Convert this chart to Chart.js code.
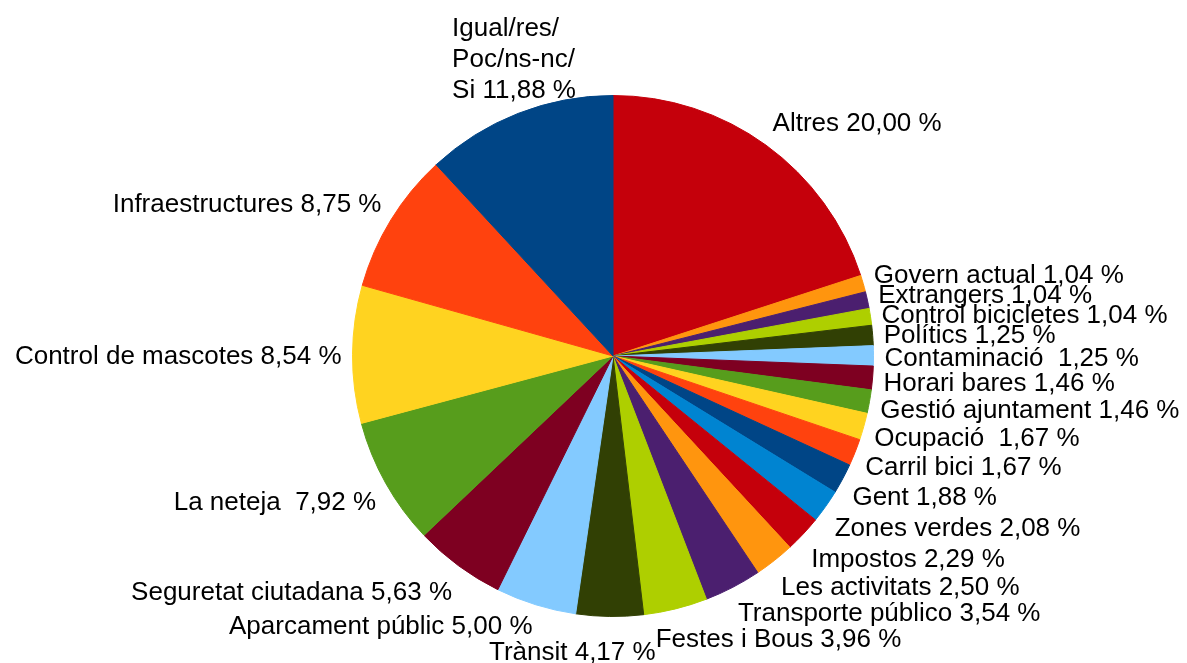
<!DOCTYPE html>
<html>
<head>
<meta charset="utf-8">
<script src="https://cdn.jsdelivr.net/npm/chart.js@4/dist/chart.umd.min.js"></script>
<style>
  html, body { margin: 0; padding: 0; background: #fff; }
  #wrap { width: 1187px; height: 663px; }
</style>
</head>
<body>
<div id="wrap"><canvas id="pieChart" width="1187" height="663"></canvas></div>
<script>
// Slices clockwise from 12 o'clock
const categories = [
    'Altres', 'Govern actual', 'Extrangers', 'Control bicicletes', 'Polítics',
    'Contaminació ', 'Horari bares', 'Gestió ajuntament', 'Ocupació ', 'Carril bici',
    'Gent', 'Zones verdes', 'Impostos', 'Les activitats', 'Transporte público',
    'Festes i Bous', 'Trànsit', 'Aparcament públic', 'Seguretat ciutadana', 'La neteja ',
    'Control de mascotes', 'Infraestructures', ['Igual/res/', 'Poc/ns-nc/', 'Si']
];
const shares = [
    20.00, 1.04, 1.04, 1.04, 1.25,
    1.25, 1.46, 1.46, 1.67, 1.67,
    1.88, 2.08, 2.29, 2.50, 3.54,
    3.96, 4.17, 5.00, 5.63, 7.92,
    8.54, 8.75, 11.88
];
const palette = ['#C5000B', '#FF950E', '#4B1F6F', '#AECF00', '#314004', '#83CAFF',
                 '#7E0021', '#579D1C', '#FFD320', '#FF420E', '#004586', '#0084D1'];
const sliceColors = shares.map((_, i) => palette[i % palette.length]);

const FONT = '26px "Liberation Sans", Arial, sans-serif';
const LINE_H = 31;

const fmtShare = v => v.toFixed(2).replace('.', ',') + ' %';
const clamp1 = v => Math.max(-1, Math.min(1, v));

// Labels outside the pie, anchored by the corner nearest the slice
const outsideLabels = {
    id: 'outsideLabels',
    afterDatasetsDraw(chart) {
        const ctx = chart.ctx;
        const meta = chart.getDatasetMeta(0);
        const values = chart.data.datasets[0].data;
        ctx.save();
        ctx.font = FONT;
        ctx.fillStyle = '#000';
        ctx.textAlign = 'left';
        ctx.textBaseline = 'middle';

        const boxes = meta.data.map((arc, i) => {
            const p = arc.getProps(['x', 'y', 'startAngle', 'endAngle', 'outerRadius'], true);
            const mid = (p.startAngle + p.endAngle) / 2;
            const dx = Math.cos(mid), dy = Math.sin(mid);
            const R = p.outerRadius + 11;
            const px = p.x + R * dx, py = p.y + R * dy;
            const cat = chart.data.labels[i];
            const lines = Array.isArray(cat) ? cat.slice() : [cat];
            lines[lines.length - 1] += ' ' + fmtShare(values[i]);
            const w = Math.max(...lines.map(l => ctx.measureText(l).width));
            const h = lines.length * LINE_H;
            let fx;
            if (dy < 0) fx = Math.abs(dx) < 0.4 ? 0 : Math.sign(dx);
            else fx = clamp1(dx * 3.4);
            const fy = clamp1(dy * 1.5);
            return { lines, w, h, dx, cx: px + fx * w / 2, cy: py + fy * h / 2 };
        });

        // simple overlap resolution
        for (let it = 0; it < 60; it++) {
            for (let i = 0; i < boxes.length; i++) {
                for (let j = i + 1; j < boxes.length; j++) {
                    const a = boxes[i], b = boxes[j];
                    const sideBySide = Math.abs(a.dx) <= 0.7 || Math.abs(b.dx) <= 0.7;
                    const trim = sideBySide ? 5 : 11;
                    const ox = Math.min(a.cx + a.w / 2, b.cx + b.w / 2) - Math.max(a.cx - a.w / 2, b.cx - b.w / 2);
                    const oy = Math.min(a.cy + (a.h - trim) / 2, b.cy + (b.h - trim) / 2) -
                               Math.max(a.cy - (a.h - trim) / 2, b.cy - (b.h - trim) / 2);
                    if (ox <= 0 || oy <= 0) continue;
                    if (sideBySide && Math.abs(a.cy - b.cy) < 10) {
                        // the label nearer the bottom centre gives way sideways
                        const mover = Math.abs(a.dx) < Math.abs(b.dx) ? a : b;
                        const other = mover === a ? b : a;
                        mover.cx += mover.cx < other.cx ? -ox : ox;
                    } else {
                        const s = oy / 2;
                        if (a.cy < b.cy) { a.cy -= s; b.cy += s; } else { a.cy += s; b.cy -= s; }
                    }
                }
            }
        }

        boxes.forEach(b => {
            const left = b.cx - b.w / 2;
            const top = b.cy - b.h / 2 + 3;
            b.lines.forEach((l, k) => ctx.fillText(l, left, top + LINE_H * (k + 0.5)));
        });
        ctx.restore();
    }
};

new Chart(document.getElementById('pieChart'), {
    type: 'pie',
    data: {
        labels: categories,
        datasets: [{
            data: shares,
            backgroundColor: sliceColors,
            borderColor: sliceColors,
            borderWidth: 1
        }]
    },
    options: {
        responsive: false,
        animation: false,
        layout: { padding: { top: 95, bottom: 46, left: 352, right: 313 } },
        plugins: {
            legend: { display: false },
            tooltip: { enabled: false }
        }
    },
    plugins: [outsideLabels]
});
</script>
</body>
</html>
